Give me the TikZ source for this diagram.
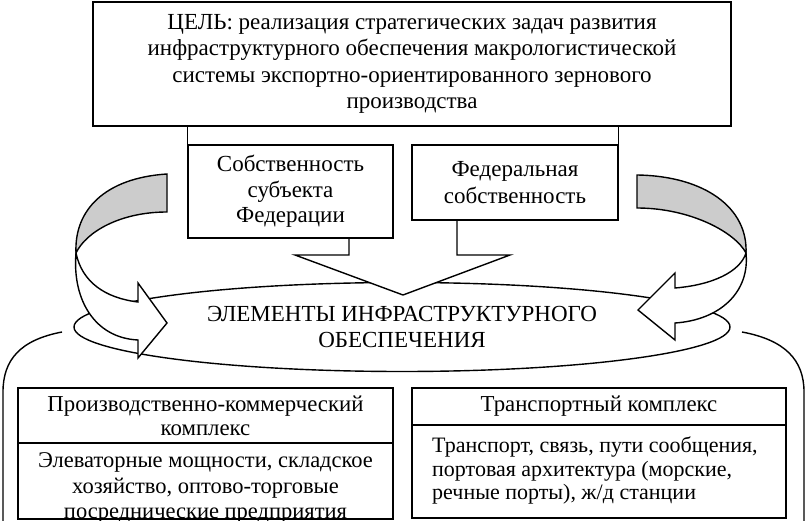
\documentclass[tikz,border=0pt]{standalone}
\usepackage{fontspec}
\setmainfont{Liberation Serif}
\usetikzlibrary{shapes.geometric,calc}
\newcommand{\mainsize}{\fontsize{23}{26.5}\selectfont}
\newcommand{\smallsize}{\fontsize{22.8}{24}\selectfont}
\tikzset{
  ln/.style={line width=1.4pt, line join=miter},
  box/.style={ln, draw, fill=white, inner sep=0pt, align=center, font=\mainsize},
  txt/.style={inner sep=0pt, font=\smallsize},
  band/.style={ln, draw, fill=gray!40},
  front/.style={ln, draw, fill=white},
}
\begin{document}
\begin{tikzpicture}[x=1pt, y=-1pt]
\useasboundingbox (0,0) rectangle (806,521);
\clip (0,0) rectangle (806,521);

% outer brackets
\coordinate (bl0) at (62,332);
\coordinate (bl1) at (3,540);
\coordinate (br0) at (742,332);
\coordinate (br1) at (804,540);
\draw[ln] (bl0) .. controls (20,340) and (3,360) .. (3,392) -- (bl1);
\draw[ln] (br0) .. controls (785,340) and (804,360) .. (804,392) -- (br1);

% ellipse
\node[ln, draw, ellipse, minimum width=656pt, minimum height=89pt, inner sep=0pt,
      align=center, font=\mainsize] (elem) at (402,327)
  {ЭЛЕМЕНТЫ ИНФРАСТРУКТУРНОГО\\ОБЕСПЕЧЕНИЯ};

% callout arrow
\coordinate (tip) at (403,295);
\coordinate (cl) at (349,238);
\coordinate (cr) at (457,220);
\draw[front] (cl) |- (295,255) -- (tip) -- (510,255) -| (cr);

% top goal box
\node[box, minimum width=638pt, minimum height=124pt] (goal) at (412,64)
  {ЦЕЛЬ: реализация стратегических задач развития\\
   инфраструктурного обеспечения макрологистической\\
   системы экспортно-ориентированного зернового\\
   производства};

% ownership boxes
\node[box, minimum width=205pt, minimum height=93pt, font=\fontsize{23}{25.5}\selectfont] (own1) at (290.5,191.5)
  {Собственность\\субъекта\\Федерации};
\node[box, minimum width=206pt, minimum height=75pt] (own2) at (515,182.5)
  {Федеральная\\собственность};
\draw[ln] (goal.south -| own1.west) -- (own1.north west);
\draw[ln] (goal.south -| own2.east) -- (own2.north east);

% left twisted arrow
\coordinate (tl) at (76,253);
\draw[band] (167,174) .. controls (105,178) and (74,210) .. (tl)
  .. controls (86,232) and (120,212) .. (167,212) -- cycle;
\draw[front] (tl) .. controls (72,300) and (95,338) .. (138,340) -- (138,358)
  -- (167,323) -- (138,283) -- (138,302) .. controls (105,298) and (82,282) .. (tl) -- cycle;

% right twisted arrow
\coordinate (tr) at (746,253);
\draw[band] (637,175) .. controls (705,176) and (748,208) .. (tr)
  .. controls (735,232) and (690,208) .. (637,208) -- cycle;
\draw[front] (tr) .. controls (750,292) and (720,320) .. (675,323) -- (675,340)
  -- (638,310) -- (675,273) -- (675,288) .. controls (712,285) and (740,272) .. (tr) -- cycle;

% bottom left complex
\node[box, minimum width=375pt, minimum height=55pt, font=\smallsize] (pkh) at (205.5,415.5)
  {Производственно-коммерческий\\комплекс};
\node[box, minimum width=375pt, minimum height=76pt] (pkb) at (205.5,481) {};
\node[txt, align=center, anchor=north, font=\fontsize{22.5}{25.5}\selectfont] (pkt) at (205.5,452.5)
  {Элеваторные мощности, складское\\хозяйство, оптово-торговые\\посреднические предприятия};
\draw[ln] (pkb.south west) -- (pkb.south east);

% bottom right complex
\node[box, minimum width=374pt, minimum height=37pt, font=\smallsize] (trh) at (599,406.5)
  {Транспортный комплекс};
\node[box, minimum width=374pt, minimum height=93pt] (trb) at (599,471.5) {};
\node[txt, align=left, anchor=north west, font=\fontsize{22}{23.5}\selectfont] (trt) at (432,437)
  {Транспорт, связь, пути сообщения,\\портовая архитектура (морские,\\речные порты), ж/д станции};
\end{tikzpicture}
\end{document}
